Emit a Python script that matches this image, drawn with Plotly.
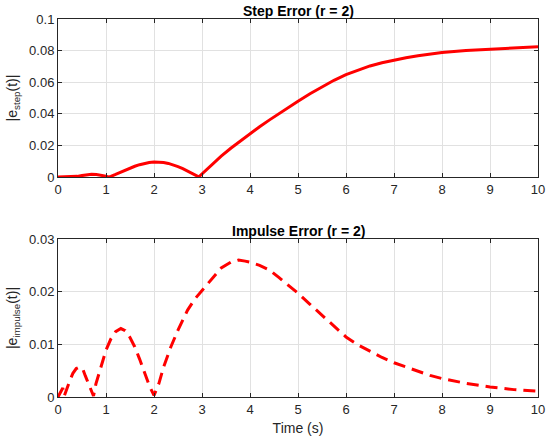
import plotly.graph_objects as go

# Step error |e_step(t)|
t_step = [0, 0.1, 0.2, 0.3, 0.4, 0.5, 0.6, 0.7, 0.8, 0.9, 1.0, 1.05, 1.1, 1.2, 1.3, 1.4, 1.5,
          1.6, 1.7, 1.8, 1.9, 2.0, 2.1, 2.2, 2.3, 2.4, 2.5, 2.6, 2.7, 2.8, 2.9, 2.93,
          3.0, 3.2, 3.4, 3.6, 3.8, 4.0, 4.2, 4.4, 4.6, 4.8, 5.0, 5.25, 5.5, 5.75, 6.0,
          6.25, 6.5, 6.75, 7.0, 7.25, 7.5, 7.75, 8.0, 8.5, 9.0, 9.5, 10.0]
e_step = [0.0, 0.0001, 0.0001, 0.0001, 0.0004, 0.0009, 0.0014, 0.0017, 0.0016, 0.0012, 0.0005, 0.0001, 0.0004, 0.0016, 0.0030, 0.0044, 0.0057,
          0.0068, 0.0078, 0.0086, 0.0092, 0.0095, 0.0095, 0.0092, 0.0086, 0.0077, 0.0066, 0.0053, 0.0039, 0.0024, 0.0006, 0.0,
          0.0020, 0.0078, 0.0132, 0.0182, 0.0229, 0.0274, 0.0318, 0.0360, 0.0401, 0.0441, 0.0480, 0.0527, 0.0571, 0.0612, 0.0648,
          0.0678, 0.0703, 0.0723, 0.0740, 0.0755, 0.0768, 0.0779, 0.0788, 0.0801, 0.0810, 0.0818, 0.0824]

# Impulse error |e_impulse(t)|
t_imp = [0, 0.05, 0.1, 0.13, 0.16, 0.25, 0.31, 0.38, 0.45, 0.52, 0.57, 0.67, 0.74, 0.79, 0.9, 1.0,
         1.1, 1.2, 1.31, 1.4, 1.5, 1.6, 1.7, 1.8, 1.9, 2.0, 2.1, 2.2, 2.35, 2.5, 2.7, 2.85, 3.0,
         3.2, 3.4, 3.6, 3.76, 3.9, 4.0, 4.2, 4.41, 4.6, 4.8, 5.0, 5.25, 5.5, 5.75, 6.0,
         6.25, 6.5, 6.75, 7.0, 7.25, 7.5, 7.75, 8.0, 8.5, 9.0, 9.5, 10.0]
e_imp = [0.0, 0.0010, 0.0017, 0.0002, 0.0010, 0.0032, 0.0045, 0.0054, 0.0057, 0.0052, 0.0040, 0.0018, 0.0002, 0.0025, 0.0060, 0.0089,
         0.0110, 0.0124, 0.0130, 0.0126, 0.0113, 0.0095, 0.0072, 0.0045, 0.0022, 0.0003, 0.0025, 0.0057, 0.0095, 0.0127, 0.0165, 0.0186, 0.0202,
         0.0225, 0.0245, 0.0256, 0.0260, 0.0258, 0.0256, 0.0250, 0.0241, 0.0227, 0.0212, 0.0197, 0.0176, 0.0155, 0.0134, 0.0114,
         0.0099, 0.0087, 0.0075, 0.0065, 0.0057, 0.0048, 0.0041, 0.0035, 0.0026, 0.0019, 0.0014, 0.0011]

x_ticks = list(range(0, 11))
y_ticks_step = [0, 0.02, 0.04, 0.06, 0.08, 0.1]
y_tick_labels_step = ["0", "0.02", "0.04", "0.06", "0.08", "0.1"]
y_ticks_imp = [0, 0.01, 0.02, 0.03]
y_tick_labels_imp = ["0", "0.01", "0.02", "0.03"]

font_family = "Liberation Sans, Arial, sans-serif"
axis_color = "#262626"
grid_color = "#e1e1e1"

fig = go.Figure()
fig.add_trace(go.Scatter(x=t_step, y=e_step, mode="lines",
                         line=dict(color="#ff0000", width=3), xaxis="x", yaxis="y",
                         showlegend=False))
fig.add_trace(go.Scatter(x=t_imp, y=e_imp, mode="lines",
                         line=dict(color="#ff0000", width=3, dash="12px,7px"), xaxis="x2", yaxis="y2",
                         showlegend=False))

common_x = dict(range=[0, 10], tickvals=x_ticks, ticks="inside", ticklen=4, tickcolor=axis_color,
                showline=True, linecolor=axis_color, linewidth=1, mirror="allticks",
                showgrid=True, gridcolor=grid_color, gridwidth=1, zeroline=False, automargin=False,
                tickfont=dict(size=13, color=axis_color, family=font_family))
common_y = dict(ticks="inside", ticklen=4, tickcolor=axis_color,
                showline=True, linecolor=axis_color, linewidth=1, mirror="allticks",
                showgrid=True, gridcolor=grid_color, gridwidth=1, zeroline=False, automargin=False,
                tickfont=dict(size=13, color=axis_color, family=font_family))

fig.update_layout(
    width=550, height=442,
    margin=dict(l=58, r=12, t=19, b=45),
    paper_bgcolor="white", plot_bgcolor="white",
    font=dict(family=font_family, color=axis_color),
    xaxis=dict(domain=[0, 1], anchor="y", **common_x),
    yaxis=dict(domain=[0.582, 1], anchor="x", range=[0, 0.1], tickvals=y_ticks_step,
               ticktext=y_tick_labels_step,
               title=dict(text="|e<sub>step</sub>(t)|", font=dict(size=14, color=axis_color), standoff=8),
               **common_y),
    xaxis2=dict(domain=[0, 1], anchor="y2",
                title=dict(text="Time (s)", font=dict(size=14, color=axis_color), standoff=7),
                **common_x),
    yaxis2=dict(domain=[0, 0.418], anchor="x2", range=[0, 0.03], tickvals=y_ticks_imp,
                ticktext=y_tick_labels_imp,
                title=dict(text="|e<sub>impulse</sub>(t)|", font=dict(size=14, color=axis_color), standoff=8),
                **common_y),
    annotations=[
        dict(text="<b>Step Error (r = 2)</b>", x=0.5, y=1, xref="paper", yref="paper",
             xanchor="center", yanchor="bottom", showarrow=False, yshift=-2,
             font=dict(size=14, color="black", family=font_family)),
        dict(text="<b>Impulse Error (r = 2)</b>", x=0.5, y=0.418, xref="paper", yref="paper",
             xanchor="center", yanchor="bottom", showarrow=False, yshift=-2,
             font=dict(size=14, color="black", family=font_family)),
    ],
)

fig.write_html("out.html", config={"displayModeBar": False},
               post_script="document.body.style.margin='0';document.body.style.overflow='hidden';")
